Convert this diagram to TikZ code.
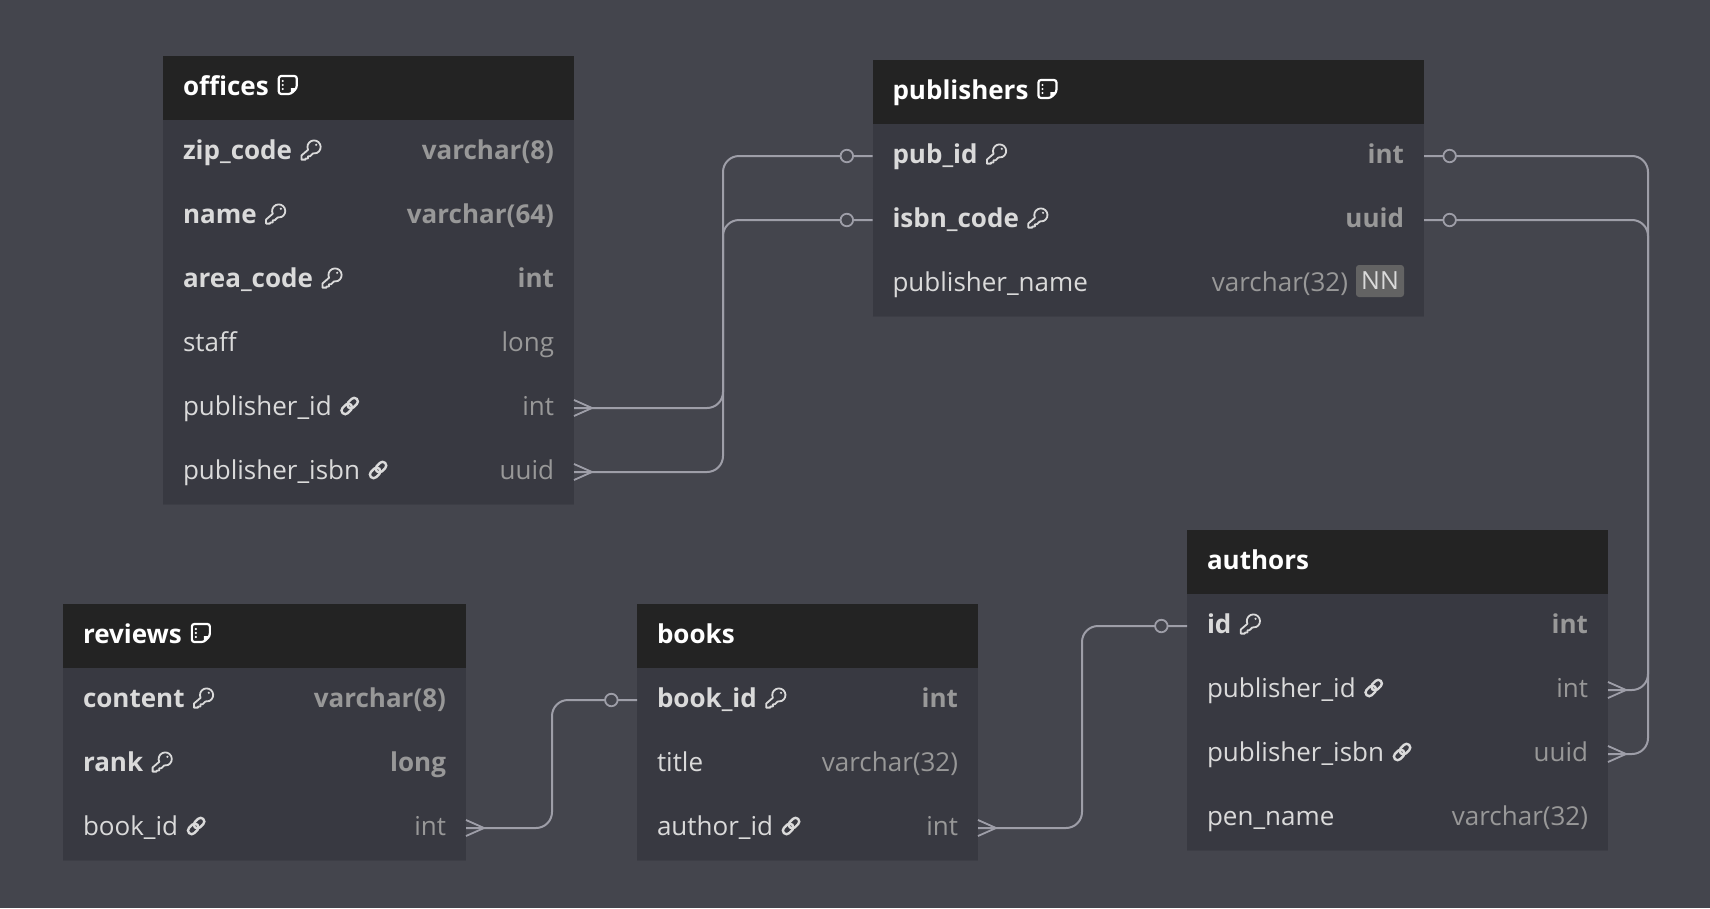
\documentclass[tikz,border=0pt]{standalone}
\usepackage{fontspec}
\setmainfont{Open Sans}
\usetikzlibrary{positioning,calc}
\definecolor{canvas}{HTML}{44454D}
\definecolor{rowfill}{HTML}{383941}
\definecolor{rowline}{HTML}{3D3E46}
\definecolor{headfill}{HTML}{232323}
\definecolor{relcolor}{HTML}{9E9EA8}
\definecolor{pkcolor}{HTML}{DADADA}
\definecolor{typecolor}{HTML}{989898}
\definecolor{nnfill}{HTML}{636363}
\tikzset{
  cellfont/.style={font=\fontsize{26}{30}\selectfont, inner sep=0pt, outer sep=0pt, text height=20pt, text depth=6pt},
  headbox/.style={fill=headfill, anchor=north west, minimum height=64pt, inner sep=0pt, outer sep=0pt},
  rowbox/.style={fill=rowfill, anchor=north, minimum height=64pt, inner sep=0pt, outer sep=0pt},
  headtext/.style={cellfont, text=white, font=\fontsize{26}{30}\selectfont\bfseries},
  pkname/.style={cellfont, text=pkcolor, font=\fontsize{26}{30}\selectfont\bfseries},
  fkname/.style={cellfont, text=pkcolor},
  plname/.style={cellfont, text=pkcolor},
  pktype/.style={cellfont, text=typecolor, font=\fontsize{26}{30}\selectfont\bfseries},
  fktype/.style={cellfont, text=typecolor},
  pltype/.style={cellfont, text=typecolor},
  nnbadge/.style={fill=nnfill, text=pkcolor, rounded corners=3pt, minimum width=48pt, minimum height=32pt, inner sep=0pt, outer sep=0pt, font=\fontsize{25}{28}\selectfont},
  relline/.style={draw=relcolor, line width=2pt, rounded corners=16pt},
  zeroend/.style={circle, draw=relcolor, line width=1.8pt, fill=canvas, minimum size=12.5pt, inner sep=0pt},
  pkicon/.pic={\begin{scope}[y=1pt, draw=pkcolor, line width=1.8pt, line join=round]
      \draw (-2.98,0.21) arc[start angle=205, end angle=-100, radius=6.6]
        -- (-1,-6.3) -- (-3,-6.3) -- (-3,-8.5) -- (-5.5,-8.5) -- (-5.5,-9.6) -- (-9.6,-9.6) -- (-9.6,-5.5) -- cycle;
      \fill[pkcolor] (5.2,5.2) circle (1.2);
    \end{scope}},
  fkicon/.pic={\begin{scope}[xshift=-1pt, y=1pt, draw=pkcolor, line width=2.4pt]
      \draw[rotate=45, rounded corners=3.6pt] (-10,-3.7) rectangle (1.8,3.7);
      \draw[rotate=45, rounded corners=3.6pt] (-1.8,-3.7) rectangle (10,3.7);
    \end{scope}},
  plicon/.pic={},
  noteicon/.pic={\begin{scope}[y=1pt, draw=white, line width=2.2pt]
      \draw[rounded corners=2.5pt] (-9,9) -- (9,9) -- (9,-3) -- (3,-9) -- (-9,-9) -- cycle;
      \fill[white] (9,-3) -- (3,-3) -- (3,-9) -- cycle;
      \foreach \d in {-4,0,4} \fill[white] (-5,\d) circle (1.2);
    \end{scope}},
  crowfoot/.pic={\draw[relcolor, line width=1.8pt] (0,-8) -- (18,0) -- (0,8) (0,0) -- (18,0);}
}
% id, x, y, width, title, rows
\newcommand{\dbtable}[6]{%
  \node[headbox, minimum width=#4pt] (#1-h) at (#2,#3) {};
  \node[headtext, right=20pt of #1-h.west] (#1-t) {#5};
  \foreach \i/\nm/\kd/\ty [remember=\i as \prev (initially h)] in {#6} {
    \node[rowbox, minimum width=#4pt, below=0pt of #1-\prev] (#1-\i) {};
    \draw[rowline, line width=1pt] (#1-\i.south west) -- (#1-\i.south east);
    \node[\kd name, right=20pt of #1-\i.west] (#1-\i-n) {\nm};
    \node[\kd type, left=20pt of #1-\i.east] (#1-\i-t) {\ty};
    \pic at ($(#1-\i-n.east)+(19,-2)$) {\kd icon};
  }
}
\begin{document}
\begin{tikzpicture}[x=1pt, y=-1pt]
  \fill[canvas] (0,0) rectangle (1710,908);
  \useasboundingbox (0,0) rectangle (1710,908);

  \dbtable{off}{163}{56}{411}{offices}{
    1/zip\_code/pk/varchar(8), 2/name/pk/varchar(64), 3/area\_code/pk/int,
    4/staff/pl/long, 5/publisher\_id/fk/int, 6/publisher\_isbn/fk/uuid}
  \dbtable{pub}{872.5}{60}{551.5}{publishers}{
    1/pub\_id/pk/int, 2/isbn\_code/pk/uuid, 3/publisher\_name/pl/{}}
  \dbtable{aut}{1187}{530}{421}{authors}{
    1/id/pk/int, 2/publisher\_id/fk/int, 3/publisher\_isbn/fk/uuid, 4/pen\_name/pl/varchar(32)}
  \dbtable{rev}{63}{604}{403}{reviews}{
    1/content/pk/varchar(8), 2/rank/pk/long, 3/book\_id/fk/int}
  \dbtable{boo}{637}{604}{341}{books}{
    1/book\_id/pk/int, 2/title/pl/varchar(32), 3/author\_id/fk/int}

  \node[nnbadge, left=20pt of pub-3.east, yshift=3pt] (pub-nn) {NN};
  \node[pltype, left=8pt of pub-nn, yshift=-3pt] (pub-3-v) {varchar(32)};

  \pic at ($(off-t.east)+(19,-3)$) {noteicon};
  \pic at ($(pub-t.east)+(19,-3)$) {noteicon};
  \pic at ($(rev-t.east)+(19,-3)$) {noteicon};

  \coordinate (busa) at (723,0);
  \coordinate (busb) at (1648,0);
  \coordinate (busc) at (552,0);
  \coordinate (busd) at (1082,0);

  \draw[relline] (off-5.east) -- (off-5.east -| busa) -- (pub-1.west -| busa) -- (pub-1.west);
  \draw[relline] (off-6.east) -- (off-6.east -| busa) -- (pub-2.west -| busa) -- (pub-2.west);
  \draw[relline] (pub-1.east) -- (pub-1.east -| busb) -- (aut-2.east -| busb) -- (aut-2.east);
  \draw[relline] (pub-2.east) -- (pub-2.east -| busb) -- (aut-3.east -| busb) -- (aut-3.east);
  \draw[relline] (rev-3.east) -- (rev-3.east -| busc) -- (boo-1.west -| busc) -- (boo-1.west);
  \draw[relline] (boo-3.east) -- (boo-3.east -| busd) -- (aut-1.west -| busd) -- (aut-1.west);

  \node[zeroend, left=18.5pt of pub-1.west] (za) {};
  \node[zeroend, left=18.5pt of pub-2.west] (zb) {};
  \node[zeroend, right=18.5pt of pub-1.east] (zc) {};
  \node[zeroend, right=18.5pt of pub-2.east] (zd) {};
  \node[zeroend, left=18.5pt of boo-1.west] (ze) {};
  \node[zeroend, left=18.5pt of aut-1.west] (zf) {};

  \pic at (off-5.east) {crowfoot};
  \pic at (off-6.east) {crowfoot};
  \pic at (aut-2.east) {crowfoot};
  \pic at (aut-3.east) {crowfoot};
  \pic at (rev-3.east) {crowfoot};
  \pic at (boo-3.east) {crowfoot};
\end{tikzpicture}
\end{document}
